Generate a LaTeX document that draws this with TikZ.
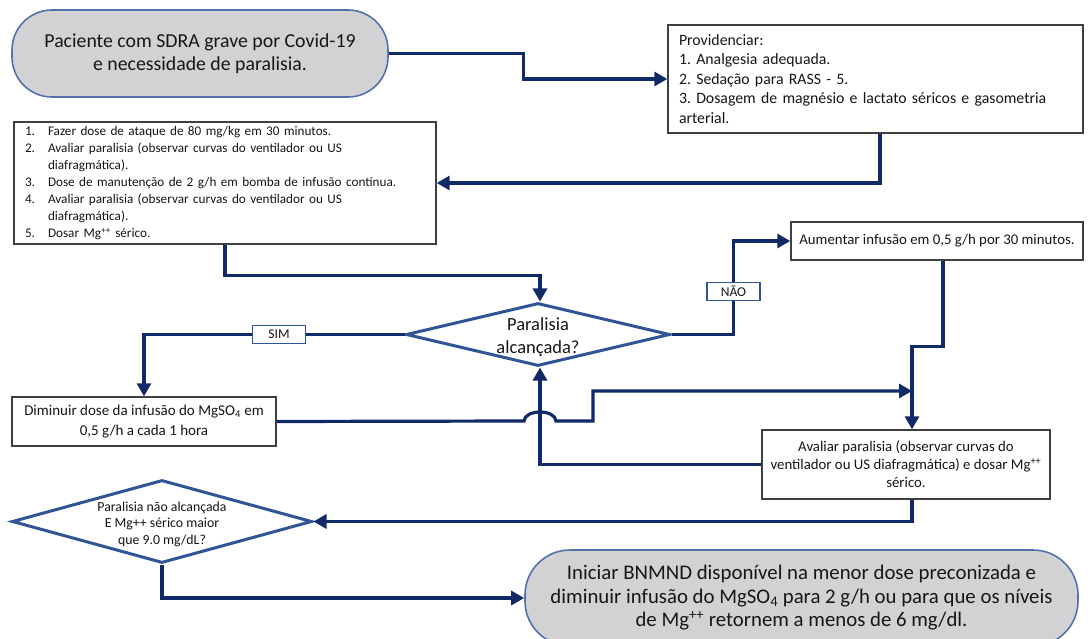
\documentclass[tikz,border=0pt]{standalone}
\usepackage{fontspec}
\setmainfont{Carlito}
\frenchspacing
\usetikzlibrary{arrows.meta,shapes.geometric,calc}
\definecolor{conn}{RGB}{16,42,104}
\definecolor{diab}{RGB}{47,85,151}
\definecolor{pillb}{RGB}{84,114,170}
\definecolor{pillf}{RGB}{210,210,212}
\definecolor{boxb}{RGB}{64,64,64}
\definecolor{txt}{RGB}{22,22,22}
\tikzset{
  pill/.style={draw=pillb, fill=pillf, line width=1.6pt, rounded corners=40pt, align=center, text=txt, inner sep=0pt},
  stepbox/.style={draw=boxb, fill=white, line width=1.4pt, text=txt, inner sep=0pt},
  dia/.style={diamond, draw=diab, fill=white, line width=3pt, inner sep=0pt},
  lab/.style={draw=diab, fill=white, line width=1.4pt, text=txt, font=\fontsize{13.5}{15}\selectfont, minimum width=53pt, minimum height=18pt, inner sep=0pt},
  conn/.style={draw=conn, line width=3.2pt, -{Triangle[length=13pt,width=14pt]}},
}
\begin{document}
\begin{tikzpicture}[x=1pt,y=-1pt]
\useasboundingbox (0,0) rectangle (1088,639);

% nodes
\node[pill, minimum width=376pt, minimum height=87pt, font=\fontsize{19.8}{23.5}\selectfont] (s) at (200,53.5)
  {Paciente com SDRA grave por Covid-19\\e necessidade de paralisia.};

\node[stepbox, minimum height=108pt, text width=393pt, inner xsep=11pt, align=left, font=\fontsize{15.8}{19.5}\selectfont] (prov) at (875.5,79)
  {Providenciar:\\1. Analgesia adequada.\\2. Sedação para RASS - 5.\\3. Dosagem de magnésio e lactato séricos e gasometria\\arterial.};

\node[stepbox, minimum height=122pt, text width=400pt, inner xsep=11pt, align=left, font=\fontsize{13.2}{17}\selectfont] (b1) at (225,183)
  {\begin{tabular}{@{}l@{\hspace{13pt}}l@{}}
  1. & Fazer dose de ataque de 80 mg/kg em 30 minutos.\\
  2. & Avaliar paralisia (observar curvas do ventilador ou US\\
     & diafragmática).\\
  3. & Dose de manutenção de 2 g/h em bomba de infusão contínua.\\
  4. & Avaliar paralisia (observar curvas do ventilador ou US\\
     & diafragmática).\\
  5. & Dosar Mg\textsuperscript{++} sérico.
  \end{tabular}};

\node[dia, minimum width=264pt, minimum height=63pt] (d1) at (538,334.5) {};
\node[text=txt, align=center, font=\fontsize{18.5}{23}\selectfont] (d1t) at (538,337.5) {Paralisia\\alcançada?};

\node[stepbox, minimum width=292pt, minimum height=38pt, font=\fontsize{14.8}{17}\selectfont] (aum) at (937,241)
  {Aumentar infusão em 0,5 g/h por 30 minutos.};

\node[stepbox, minimum width=264pt, minimum height=49pt, align=center, font=\fontsize{15}{20.5}\selectfont] (dim) at (144,421.5)
  {Diminuir dose da infusão do MgSO\textsubscript{4} em\\0,5 g/h a cada 1 hora};

\node[stepbox, minimum width=288pt, minimum height=69pt, align=center, font=\fontsize{14.8}{18}\selectfont] (av) at (906,464.5)
  {Avaliar paralisia (observar curvas do\\ventilador ou US diafragmática) e dosar Mg\textsuperscript{++}\\sérico.};

\node[dia, minimum width=300pt, minimum height=83pt] (d2) at (162,521.5) {};
\node[text=txt, align=center, font=\fontsize{13.8}{16.5}\selectfont] (d2t) at (162,524)
  {Paralisia não alcançada\\E Mg++ sérico maior\\que 9.0 mg/dL?};

\node[pill, minimum width=553pt, minimum height=96pt, rounded corners=45pt, font=\fontsize{20.8}{23.5}\selectfont] (fin) at (801.5,598)
  {Iniciar BNMND disponível na menor dose preconizada e\\diminuir infusão do MgSO\textsubscript{4} para 2 g/h ou para que os níveis\\de Mg\textsuperscript{++} retornem a menos de 6 mg/dl.};

% connectors
\draw[conn] (s.east) -- ++(135,0) |- (prov.west);
\draw[conn] ([xshift=4.5pt]prov.south) |- (b1.east);
\draw[conn] (b1.south) -- ++(0,31) -| ([xshift=2pt]d1.north);

\draw[conn] (d1.east) -- ++(62,0) coordinate (nk) |- (aum.west);
\node[lab] (nao) at ($(nk)+(0,-43)$) {NÃO};

\draw[conn] (d1.west) -| (dim.north);
\node[lab] (sim) at (279,334.5) {SIM};

\coordinate (av-in) at ([xshift=6pt]av.north);
\draw[conn] ([xshift=6pt]aum.south) -- ++(0,86) -| (av-in);

\coordinate (mj) at (912,391);
\draw[conn] (dim.east) -- (524,421) .. controls (525,409) and (555,409) .. (556,421) -- (593,421) |- (mj);

\draw[conn] (av.west) -| ([xshift=2pt]d1.south);

\draw[conn] ([xshift=6pt]av.south) |- (d2.east);
\draw[conn] (d2.south) |- (fin.west);
\end{tikzpicture}
\end{document}
